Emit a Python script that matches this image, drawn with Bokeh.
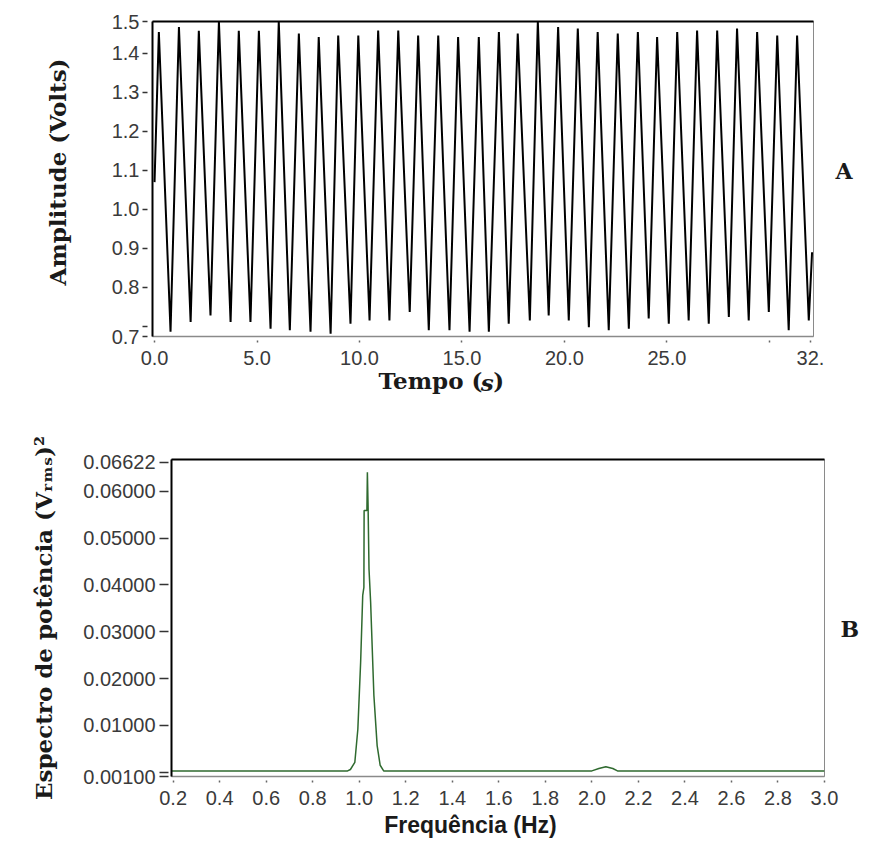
from bokeh.plotting import figure
from bokeh.models import FixedTicker, Range1d, LinearAxis
from bokeh.layouts import column, row
from bokeh.embed import file_html
from bokeh.resources import INLINE

# ---------------- Panel A: time signal (extrema) -------------
tempo = [0.00, 0.21, 0.78, 1.19, 1.76, 2.16, 2.73, 3.14, 3.71, 4.11, 4.68, 5.09, 5.66,
         6.06, 6.60, 7.04, 7.61, 8.01, 8.59, 8.96, 9.56, 9.94, 10.49, 10.91, 11.46,
         11.89, 12.45, 12.86, 13.38, 13.84, 14.39, 14.81, 15.37, 15.82, 16.31, 16.80,
         17.28, 17.72, 18.31, 18.70, 19.23, 19.69, 20.21, 20.65, 21.19, 21.62, 22.16,
         22.60, 23.14, 23.58, 24.11, 24.52, 25.09, 25.50, 26.06, 26.47, 27.04, 27.45,
         28.02, 28.42, 28.99, 29.40, 29.97, 30.38, 30.94, 31.35, 31.92, 32.08]
amplitude = [1.07, 1.455, 0.686, 1.468, 0.711, 1.458, 0.728, 1.481, 0.711, 1.458, 0.711,
             1.458, 0.694, 1.481, 0.690, 1.451, 0.686, 1.442, 0.681, 1.446, 0.707, 1.446,
             0.715, 1.459, 0.715, 1.459, 0.737, 1.446, 0.690, 1.446, 0.690, 1.442, 0.686,
             1.442, 0.686, 1.455, 0.707, 1.451, 0.715, 1.481, 0.728, 1.468, 0.715, 1.464,
             0.698, 1.455, 0.690, 1.451, 0.694, 1.455, 0.720, 1.442, 0.707, 1.455, 0.715,
             1.459, 0.707, 1.459, 0.724, 1.464, 0.715, 1.455, 0.737, 1.446, 0.690, 1.446,
             0.715, 0.890]

a_yticks = [0.674, 0.7, 0.8, 0.9, 1.0, 1.1, 1.2, 1.3, 1.4, 1.482]
a_ylabels = ["0.7", "", "0.8", "0.9", "1.0", "1.1", "1.2", "1.3", "1.4", "1.5"]
a_xticks = [0, 5, 10, 15, 20, 25, 30, 32]
a_xlabels = ["0.0", "5.0", "10.0", "15.0", "20.0", "25.0", "", "32."]

# ---------------- Panel B: power spectrum -------------
freq = [0.193, 0.950, 0.962, 0.981, 0.994, 1.006, 1.015, 1.020, 1.021, 1.033, 1.035,
        1.038, 1.042, 1.049, 1.053, 1.063, 1.077, 1.090, 1.105, 2.000, 2.030, 2.060,
        2.090, 2.110, 3.000]
potencia = [0.0003, 0.0003, 0.0006, 0.0021, 0.0092, 0.0235, 0.0378, 0.0395, 0.0559,
            0.0559, 0.0641, 0.0570, 0.0434, 0.0363, 0.0306, 0.0164, 0.0057, 0.0015,
            0.0003, 0.0003, 0.0008, 0.0012, 0.0008, 0.0003, 0.0003]

b_yticks = [-0.0009, 0.0, 0.01, 0.02, 0.03, 0.04, 0.05, 0.06, 0.06622]
b_ylabels = ["0.00100", "", "0.01000", "0.02000", "0.03000", "0.04000", "0.05000",
             "0.06000", "0.06622"]
b_xticks = [0.2, 0.4, 0.6, 0.8, 1.0, 1.2, 1.4, 1.6, 1.8, 2.0, 2.2, 2.4, 2.6, 2.8, 3.0]
b_xlabels = ["0.2", "0.4", "0.6", "0.8", "1.0", "1.2", "1.4", "1.6", "1.8", "2.0",
             "2.2", "2.4", "2.6", "2.8", "3.0"]

TICK_FONT = "Liberation Sans"
TITLE_FONT = "DejaVu Serif"
TICK_COLOR = "#3a3a3a"
TITLE_COLOR = "#1a1a1a"

# frame geometry (page pixels)
A_L, A_T, A_W, A_H = 152, 21, 661, 315
B_L, B_T, B_W, B_H = 171, 459, 653, 317
A_X0, A_X1, A_Y0, A_Y1 = -0.1, 32.15, 0.674, 1.482
B_X0, B_X1, B_Y0, B_Y1 = 0.193, 3.0, -0.0009, 0.0668
H1 = 400
H2 = 442


def ax_x(sx):
    return A_X0 + (sx - A_L) * (A_X1 - A_X0) / A_W


def ax_y(sy):
    return A_Y0 + (A_T + A_H - sy) * (A_Y1 - A_Y0) / A_H


def bx_x(sx):
    return B_X0 + (sx - B_L) * (B_X1 - B_X0) / B_W


def bx_y(sy):
    return B_Y0 + (B_T + B_H - sy) * (B_Y1 - B_Y0) / B_H


def style(p, xticks, xlabels, yticks, ylabels, ytin, ytout, ystand):
    p.xgrid.visible = False
    p.ygrid.visible = False
    p.outline_line_color = "#8a8a8a"
    p.outline_line_width = 1
    p.background_fill_color = "white"
    p.border_fill_color = "white"
    xa = p.below[0]
    ya = p.left[0]
    xa.ticker = FixedTicker(ticks=xticks)
    xa.major_label_overrides = {k: v for k, v in zip(xticks, xlabels)}
    ya.ticker = FixedTicker(ticks=yticks)
    ya.major_label_overrides = {k: v for k, v in zip(yticks, ylabels)}
    for a in (xa, ya):
        a.minor_tick_line_color = None
        a.major_label_text_font = TICK_FONT
        a.major_label_text_font_size = "20px"
        a.major_label_text_color = TICK_COLOR
    xa.axis_line_color = "#8a8a8a"
    xa.axis_line_width = 1.5
    xa.major_tick_in = -4
    xa.major_tick_out = 6
    xa.major_tick_line_color = "#666666"
    xa.major_tick_line_width = 1.5
    xa.major_label_standoff = 8
    ya.axis_line_color = "black"
    ya.axis_line_width = 2
    ya.major_tick_in = ytin
    ya.major_tick_out = ytout
    ya.major_tick_line_color = "#333333"
    ya.major_tick_line_width = 1.5
    ya.major_label_standoff = ystand
    top = LinearAxis(ticker=FixedTicker(ticks=[]), major_label_text_font_size="0px",
                     axis_line_color="black", axis_line_width=2,
                     major_tick_line_color=None, minor_tick_line_color=None,
                     major_label_standoff=0, major_tick_out=0, major_tick_in=0)
    p.add_layout(top, "above")
    return xa, ya


def text_axis(p, side, ticks, labels, standoff, font=TITLE_FONT, size="23px",
              style_="bold", orientation="horizontal"):
    ax = LinearAxis(ticker=FixedTicker(ticks=ticks),
                    major_label_overrides={k: v for k, v in zip(ticks, labels)},
                    axis_line_color=None, major_tick_line_color=None,
                    minor_tick_line_color=None, major_tick_in=0, major_tick_out=0,
                    major_label_standoff=standoff, major_label_text_font=font,
                    major_label_text_font_size=size,
                    major_label_text_font_style=style_,
                    major_label_text_color=TITLE_COLOR,
                    major_label_orientation=orientation)
    p.add_layout(ax, side)
    return ax


# ---------------------------- Panel A ----------------------------
p1 = figure(frame_width=A_W, frame_height=A_H, output_backend="svg",
            toolbar_location=None,
            x_range=Range1d(A_X0, A_X1), y_range=Range1d(A_Y0, A_Y1),
            min_border_left=A_L, min_border_right=40, min_border_top=A_T,
            min_border_bottom=H1 - A_T - A_H)
p1.line(tempo, amplitude, line_color="black", line_width=2.0)
xa1, ya1 = style(p1, a_xticks, a_xlabels, a_yticks, a_ylabels, -5, 10, 3)
# y title
text_axis(p1, "left", [ax_y(171.5)], ["Amplitude (Volts)"], 38,
          orientation="vertical")
# x title "Tempo (s)" with italic s (two stacked label rows on one line)
text_axis(p1, "below", [ax_x(430), ax_x(498.1)], ["Tempo (", ")"], -1)
text_axis(p1, "below", [ax_x(486.6)], ["s"], -28, style_="bold italic")
# panel letter
text_axis(p1, "right", [ax_y(170)], ["A"], 22, size="22px")

# ---------------------------- Panel B ----------------------------
p2 = figure(frame_width=B_W, frame_height=B_H, output_backend="svg",
            toolbar_location=None,
            x_range=Range1d(B_X0, B_X1), y_range=Range1d(B_Y0, B_Y1),
            min_border_left=B_L, min_border_right=37, min_border_top=B_T - H1,
            min_border_bottom=H2 - (B_T - H1) - B_H)
p2.line(freq, potencia, line_color="#2f6a2f", line_width=1.5)
xa2, ya2 = style(p2, b_xticks, b_xlabels, b_yticks, b_ylabels, -3, 12, 4)
ya2.axis_label = "Espectro de potência (Vᵣₘₛ)²"
ya2.axis_label_text_font = TITLE_FONT
ya2.axis_label_text_font_style = "bold"
ya2.axis_label_text_color = TITLE_COLOR
ya2.axis_label_text_font_size = "23px"
ya2.axis_label_standoff = 23
text_axis(p2, "below", [bx_x(470)], ["Frequência (Hz)"], 4,
          font="Liberation Sans Narrow, Liberation Sans", size="23px")
text_axis(p2, "right", [bx_y(628)], ["B"], 16, size="22px")

layout = column(row(p1), row(p2))
open("out.html", "w").write(file_html(layout, INLINE))
